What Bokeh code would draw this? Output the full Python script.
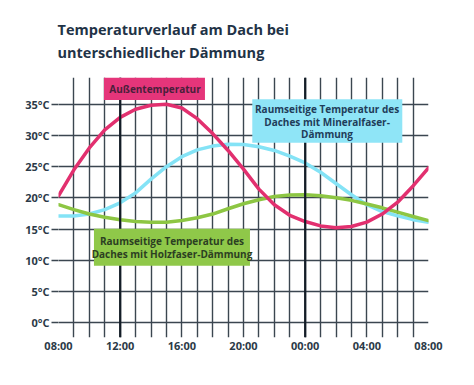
from bokeh.plotting import figure
from bokeh.models import (Range1d, FixedTicker, PrintfTickFormatter, Span,
                          BoxAnnotation, Label)
from bokeh.embed import file_html
from bokeh.resources import INLINE

# ---- data (hours after 08:00) ----
hours = list(range(25))
aussen = [20.3, 24.5, 28.0, 30.9, 32.9, 34.2, 34.85, 35.0, 34.4, 32.7, 30.3, 27.6,
          24.6, 21.4, 18.9, 17.2, 16.2, 15.5, 15.2, 15.4, 16.1, 17.4, 19.3, 21.9, 24.8]
mineral = [17.1, 17.1, 17.4, 18.1, 19.2, 20.8, 23.0, 25.0, 26.6, 27.7, 28.3, 28.6,
           28.55, 28.2, 27.6, 26.7, 25.6, 24.1, 22.3, 20.5, 18.9, 17.8, 17.1, 16.5, 16.1]
holz = [18.9, 18.1, 17.4, 16.9, 16.5, 16.2, 16.1, 16.1, 16.35, 16.8, 17.4, 18.25,
        19.05, 19.7, 20.2, 20.45, 20.5, 20.35, 20.0, 19.6, 19.0, 18.4, 17.7, 17.0, 16.35]
x_ticks = [0, 4, 8, 12, 16, 20, 24]
x_tick_labels = ["08:00", "12:00", "16:00", "20:00", "00:00", "04:00", "08:00"]
y_ticks = [0, 5, 10, 15, 20, 25, 30, 35]

PINK = "#e2306f"
CYAN = "#84e3f6"
GREEN = "#8dc643"
GRID = "#3b4650"
FONT = "Open Sans"
TXT = "#1f3347"

YTOP = 39.3
p = figure(frame_width=370, frame_height=260, min_border_left=58, min_border_right=44,
           min_border_top=77, min_border_bottom=46,
           x_range=Range1d(0, 24), y_range=Range1d(-2.4, YTOP),
           output_backend="svg", toolbar_location=None,
           title="Temperaturverlauf am Dach bei\nunterschiedlicher Dämmung")
p.outline_line_color = None
p.background_fill_color = "white"
p.border_fill_color = "white"

p.title.align = "left"
p.title.text_font = FONT
p.title.text_font_style = "bold"
p.title.text_font_size = "14.5px"
p.title.text_color = TXT
p.title.text_line_height = 1.2
p.title.standoff = 31
p.title.offset = -1

# grid
p.xgrid.ticker = FixedTicker(ticks=hours)
p.ygrid.ticker = FixedTicker(ticks=y_ticks + [YTOP])
for g in (p.xgrid, p.ygrid):
    g.grid_line_color = GRID
    g.grid_line_width = 1.4
    g.grid_line_alpha = 1.0

for loc in (4, 16):
    p.add_layout(Span(location=loc, dimension="height", line_color="#141d27", line_width=2.2))

# axes
p.xaxis.ticker = FixedTicker(ticks=x_ticks)
p.xaxis.major_label_overrides = {t: l for t, l in zip(x_ticks, x_tick_labels)}
p.xaxis.axis_line_color = None
p.xaxis.major_tick_line_color = None
p.xaxis.major_tick_out = 0
p.xaxis.major_tick_in = 0
p.xaxis.minor_tick_line_color = None
p.xaxis.minor_tick_out = 0
p.xaxis.major_label_standoff = 0

p.yaxis.ticker = FixedTicker(ticks=y_ticks)
p.yaxis.formatter = PrintfTickFormatter(format="%d°C")
p.yaxis.axis_line_color = None
p.yaxis.major_tick_line_color = GRID
p.yaxis.major_tick_line_width = 1.4
p.yaxis.major_tick_out = 7
p.yaxis.major_tick_in = 0
p.yaxis.minor_tick_line_color = None
p.yaxis.major_label_standoff = 2

for ax in (p.xaxis, p.yaxis):
    ax.major_label_text_font = FONT
    ax.major_label_text_font_style = "bold"
    ax.major_label_text_font_size = "11px"
    ax.major_label_text_color = "#2b3a48"

# lines
p.line(hours, mineral, line_color=CYAN, line_width=3.5, line_join="round", line_cap="round")
p.line(hours, holz, line_color=GREEN, line_width=3.5, line_join="round", line_cap="round")
p.line(hours, aussen, line_color=PINK, line_width=3.5, line_join="round", line_cap="round")

# label boxes
p.add_layout(BoxAnnotation(left=2.95, right=9.5, bottom=35.7, top=YTOP,
                           fill_color="#e5357a", fill_alpha=1, line_color=None))
p.add_layout(BoxAnnotation(left=12.57, right=22.3, bottom=28.85, top=35.8,
                           fill_color="#8fe5f7", fill_alpha=1, line_color=None))
p.add_layout(BoxAnnotation(left=2.3, right=12.42, bottom=9.09, top=15.06,
                           fill_color="#8fc849", fill_alpha=1, line_color=None))

def add_text(x, y, txt, color):
    p.add_layout(Label(x=x, y=y, text=txt, text_align="center", text_baseline="middle",
                       text_font=FONT, text_font_style="bold", text_font_size="10px",
                       text_color=color))

add_text(6.26, 37.45, "Außentemperatur", "#4a1f3a")
add_text(17.42, 34.2, "Raumseitige Temperatur des", "#1f3d5a")
add_text(17.42, 32.2, "Daches mit Mineralfaser-", "#1f3d5a")
add_text(17.42, 30.2, "Dämmung", "#1f3d5a")
add_text(7.36, 13.09, "Raumseitige Temperatur des", "#2c3f22")
add_text(7.36, 11.06, "Daches mit Holzfaser-Dämmung", "#2c3f22")

open("out.html", "w").write(file_html(p, INLINE))
